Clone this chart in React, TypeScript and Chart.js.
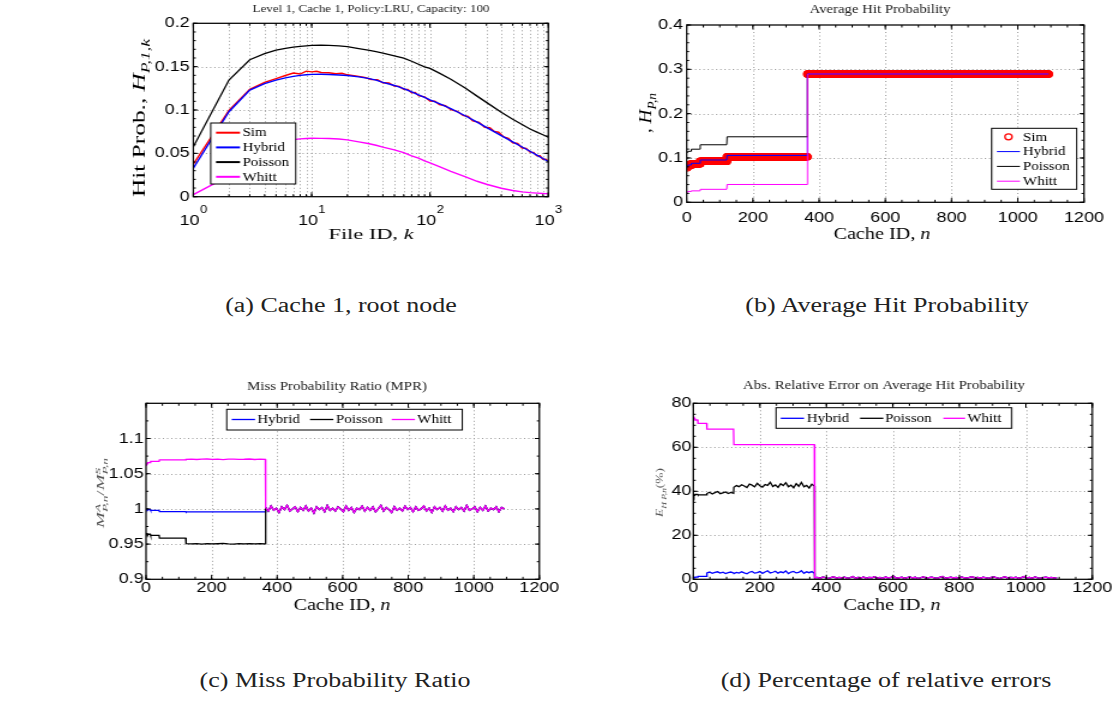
import React, { useEffect, useRef } from "react";
import { Chart, registerables } from "chart.js";

Chart.register(...registerables);

const S = 1.2; // horizontal stretch of the whole figure
const SERIF = '"Liberation Serif", "Times New Roman", Times, serif';
const SANS = '"Liberation Sans", Arial, Helvetica, sans-serif';
const RED = "#ff0000";
const BLUE = "#0000ff";
const BLACK = "#000000";
const MAGENTA = "#ff00ff";

// ================= (a) Level 1, Cache 1 — hit probability per file =================
const fileIds = [1, 2, 3, 4, 5, 6, 7, 8, 9, 10, 12, 14, 17, 20, 25, 30, 35, 40, 50, 60, 70, 80, 90, 100, 120, 150, 200, 250, 300, 400, 500, 600, 700, 800, 900, 1000];
const hybridHitByFile = [0.033, 0.098, 0.123, 0.1305, 0.1345, 0.137, 0.1388, 0.14, 0.1407, 0.1411, 0.1412, 0.1409, 0.1404, 0.1398, 0.1382, 0.1365, 0.1344, 0.1318, 0.1283, 0.1246, 0.1209, 0.1175, 0.1145, 0.1117, 0.1074, 0.1016, 0.0931, 0.086, 0.08, 0.0705, 0.0632, 0.0573, 0.0524, 0.048, 0.0441, 0.0406];
const poissonHitByFile = [0.0575, 0.1345, 0.158, 0.165, 0.169, 0.171, 0.1725, 0.1735, 0.174, 0.1745, 0.1748, 0.1746, 0.174, 0.173, 0.1708, 0.169, 0.1672, 0.1655, 0.1625, 0.1598, 0.1562, 0.1528, 0.1497, 0.148, 0.1425, 0.1355, 0.125, 0.116, 0.1088, 0.0975, 0.0893, 0.0832, 0.0781, 0.0745, 0.0714, 0.0686];
const whittHitByFile = [0.0025, 0.024, 0.042, 0.052, 0.0585, 0.063, 0.0658, 0.0667, 0.0671, 0.0674, 0.0673, 0.0671, 0.0665, 0.0655, 0.0632, 0.0614, 0.0593, 0.0572, 0.054, 0.0508, 0.0472, 0.0444, 0.0414, 0.0389, 0.0347, 0.0293, 0.0228, 0.0178, 0.0144, 0.0098, 0.0071, 0.0056, 0.0047, 0.0041, 0.0037, 0.0035];
const simFileIds = [1, 2, 3, 4, 5, 6, 7, 8, 9, 10, 11, 12, 14, 16, 18, 20, 22, 25, 28, 32, 36, 40, 45, 50, 55, 60, 65, 70, 75, 80, 90, 100, 110, 120, 135, 150, 170, 190, 210, 230, 260, 290, 320, 350, 380, 420, 460, 500, 550, 600, 650, 700, 750, 800, 850, 900, 950, 1000];
const simHitByFile = [0.0375, 0.0995, 0.1238, 0.1318, 0.1362, 0.1398, 0.1426, 0.1415, 0.1448, 0.144, 0.1446, 0.1433, 0.1429, 0.1418, 0.1423, 0.1406, 0.1399, 0.1388, 0.1376, 0.1352, 0.135, 0.1314, 0.1311, 0.1277, 0.1272, 0.1239, 0.1236, 0.12, 0.1203, 0.1166, 0.1152, 0.1104, 0.1101, 0.1063, 0.1049, 0.1003, 0.0985, 0.0937, 0.0925, 0.0875, 0.0858, 0.0801, 0.0796, 0.0752, 0.0744, 0.069, 0.0672, 0.0622, 0.0614, 0.0561, 0.0558, 0.0514, 0.0512, 0.0471, 0.0472, 0.0432, 0.0433, 0.0412];
const logTickValues = [1, 2, 3, 4, 5, 6, 7, 8, 9, 10, 20, 30, 40, 50, 60, 70, 80, 90, 100, 200, 300, 400, 500, 600, 700, 800, 900, 1000];
const decadeTicks = [1, 10, 100, 1000];
const decadeExps = ["0", "1", "2", "3"];
const hitTicksA = [0, 0.05, 0.1, 0.15, 0.2];

// ================= tree levels (cache IDs) =================
const levelStart = [1, 2, 5, 14, 41, 122, 365];
const levelEnd = [1, 4, 13, 40, 121, 364, 1093];
const cacheTicks = [0, 200, 400, 600, 800, 1000, 1200];

// ================= (b) average hit probability per level =================
const simHitLevels = [0.0777, 0.0812, 0.0835, 0.0869, 0.0926, 0.1025, 0.2895];
const hybridHitLevels = [0.0781, 0.082, 0.0842, 0.088, 0.0954, 0.1058, 0.2895];
const poissonHitLevels = [0.111, 0.1135, 0.115, 0.1198, 0.1298, 0.1478, 0.2895];
const whittHitLevels = [0.0205, 0.0235, 0.0245, 0.0258, 0.0293, 0.0402, 0.2895];
const hitTicksB = [0, 0.1, 0.2, 0.3, 0.4];

// ================= (c) miss probability ratio =================
const mprHybridLevels = [1.0, 0.9995, 0.999, 0.998, 0.9962, 0.9957];
const mprPoissonLevels = [0.9657, 0.965, 0.964, 0.9624, 0.9586];
const mprPoissonL6 = [0.9508, 0.9503, 0.9506, 0.9501, 0.9507, 0.9502, 0.9505, 0.9509, 0.9503, 0.95, 0.9506, 0.9504, 0.9508, 0.9502, 0.9505, 0.9503];
const mprWhittLevels = [1.0619, 1.064, 1.0657, 1.0676, 1.0695];
const mprWhittL6 = [1.0703, 1.0708, 1.0702, 1.0706, 1.0709, 1.0704, 1.0707, 1.0701, 1.0706, 1.0708, 1.0703, 1.0705, 1.0709, 1.0702, 1.0706, 1.0704];
const mprLeaf = [
  1.002, 0.997, 1.004, 0.998, 1.001, 0.995, 1.003, 0.999, 1.005, 0.997,
  1.0, 1.003, 0.996, 1.002, 0.998, 1.004, 0.997, 1.001, 0.994, 1.003,
  0.999, 1.002, 0.996, 1.005, 0.998, 1.001, 0.997, 1.003, 1.0, 0.996,
  1.004, 0.998, 1.002, 0.995, 1.001, 0.999, 1.004, 0.997, 1.002, 0.998,
  1.003, 0.996, 1.0, 1.005, 0.997, 1.002, 0.999, 0.995, 1.003, 0.998,
  1.001, 0.997, 1.004, 0.999, 1.002, 0.996, 1.003, 0.998, 1.0, 1.004,
  0.997, 1.001, 0.995, 1.003, 0.999, 1.002, 0.997, 1.004, 0.998, 1.001,
  0.996, 1.003, 0.999, 1.002, 0.997, 1.005, 0.998, 1.0, 1.003, 0.996,
  1.002, 0.998, 1.004, 0.997, 1.001, 0.999, 1.003, 0.996, 1.002, 1.0,
];
const mprTicks = [0.9, 0.95, 1, 1.05, 1.1];

// ================= (d) abs. relative error (%) =================
const errHybridLevels = [0.5, 0.8, 1.0, 1.3];
const errHybridL5 = [2.9, 3.3, 2.7, 3.1, 3.4, 2.8, 3.2, 2.6, 3.0, 3.3, 2.9];
const errHybridL6 = [2.6, 3.1, 2.8, 3.4, 2.9, 2.5, 3.2, 3.6, 2.8, 3.0, 3.5, 2.7, 3.3, 3.9, 2.9, 3.2, 3.7, 2.8, 3.4, 3.0, 3.8, 2.6, 3.3, 3.6, 2.9, 3.1, 3.9, 2.7, 3.4, 3.0, 3.5, 2.8];
const errPoissonLevels = [38.5, 38.2, 38.6, 38.4];
const errPoissonL5 = [39.0, 39.6, 38.8, 39.4, 39.9, 38.9, 39.3, 39.7, 39.0, 39.5, 39.1];
const errPoissonL6 = [41.8, 42.6, 42.1, 43.0, 42.4, 41.7, 43.3, 42.8, 42.0, 43.6, 42.5, 41.9, 43.1, 42.7, 44.1, 42.2, 42.9, 41.8, 43.4, 42.6, 43.9, 42.1, 42.8, 41.6, 43.5, 42.3, 44.0, 42.0, 42.7, 41.5, 43.2, 42.4];
const errWhittLevels = [74.0, 73.2, 72.4, 70.9, 68.3, 61.2];
const errLeaf = [
  0.6, 0.9, 0.4, 1.1, 0.7, 0.3, 0.8, 1.2, 0.5, 0.9,
  0.6, 1.0, 0.4, 0.7, 1.3, 0.5, 0.8, 0.6, 1.1, 0.4,
  0.9, 0.7, 1.2, 0.5, 0.8, 0.3, 1.0, 0.6, 0.9, 1.4,
  0.5, 0.7, 1.0, 0.4, 0.8, 1.1, 0.6, 0.9, 0.3, 0.7,
  1.2, 0.5, 0.8, 1.0, 0.6, 0.4, 0.9, 1.3, 0.5, 0.7,
  1.0, 0.6, 0.8, 0.4, 1.1, 0.7, 0.5, 0.9, 1.2, 0.6,
  0.8, 0.5, 1.0, 0.7, 0.4, 0.9, 1.1, 0.6, 0.3, 0.8,
  1.2, 0.5, 0.9, 0.7, 1.0, 0.4, 0.8, 1.3, 0.6, 0.9,
  0.5, 1.1, 0.7, 0.4, 0.8, 1.0, 0.6, 0.9, 0.5, 0.7,
];
const errTicks = [0, 20, 40, 60, 80];

// ================= helpers =================
type Pt = { x: number; y: number };
const zip = (xs: number[], ys: number[]): Pt[] => {
  const n = Math.min(xs.length, ys.length);
  const r: Pt[] = [];
  for (let i = 0; i < n; i++) r.push({ x: xs[i], y: ys[i] });
  return r;
};
const flatLevels = (vals: number[], first = 0): Pt[] => {
  const r: Pt[] = [];
  vals.forEach((v, j) => {
    r.push({ x: levelStart[first + j], y: v });
    r.push({ x: levelEnd[first + j], y: v });
  });
  return r;
};
const spreadLevel = (vals: number[], lv: number): Pt[] => {
  const a = levelStart[lv];
  const b = levelEnd[lv];
  const m = vals.length;
  return vals.map((v, i) => ({ x: m === 1 ? a : a + ((b - a) * i) / (m - 1), y: v }));
};
const perCache = (vals: number[]): Pt[] => {
  const r: Pt[] = [];
  vals.forEach((v, i) => {
    for (let n = levelStart[i]; n <= levelEnd[i]; n++) r.push({ x: n, y: v });
  });
  return r;
};
const seq = (a: number, b: number, st: number) => {
  const r: number[] = [];
  for (let v = a; v <= b + 1e-9; v += st) r.push(+v.toFixed(6));
  return r;
};
const fmt = (v: any) => String(+(+v).toFixed(4));

const line = (label: string, color: string, data: Pt[], width: number) => ({
  label,
  data,
  borderColor: color,
  backgroundColor: color,
  borderWidth: width,
  pointRadius: 0,
  pointHoverRadius: 0,
  tension: 0,
  fill: false,
});

type Seg = { t: string; it?: boolean; sub?: boolean; sup?: boolean; stack?: boolean };
type TextSpec = { segs: Seg[]; x: number; y: number; size: number; len: number; rot?: boolean; color?: string };
type LegendItem = { label: string; color: string; kind: "line" | "circle"; x0: number; x1: number; tx: number; y: number };
type LegendSpec = { x: number; y: number; w: number; h: number; size: number; lw: number; items: LegendItem[] };
type Geo = { CL: number; CT: number; H: number; L: number; T: number; R: number; B: number; padR: number };
type PanelCfg = {
  key: string;
  geo: Geo;
  xType: "linear" | "logarithmic";
  xMin: number; xMax: number; xTicks: number[]; xLabel: (v: any) => string; xPad: number;
  yMin: number; yMax: number; yTicks: number[]; yPad: number;
  xGrid: number[]; yGrid: number[];
  xMajor: number[]; xMinor: number[]; yMajor: number[]; yMinor: number[];
  datasets: any[];
  texts: TextSpec[];
  legend: LegendSpec;
  logLabels?: { values: number[]; exps: string[]; y: number };
};

const vItems = (defs: [string, string, "line" | "circle"][], x0: number, x1: number, tx: number, y0: number, dy: number): LegendItem[] =>
  defs.map((d, i) => ({ label: d[0], color: d[1], kind: d[2], x0, x1, tx, y: y0 + i * dy }));

// ================= panels =================
const panelA: PanelCfg = {
  key: "a",
  geo: { CL: 110, CT: 0, H: 250, L: 193.3, T: 23.3, R: 548.3, B: 196.7, padR: 15 },
  xType: "logarithmic", xMin: 1, xMax: 1000, xTicks: logTickValues, xLabel: () => "", xPad: 0,
  yMin: 0, yMax: 0.2, yTicks: hitTicksA, yPad: 3,
  xGrid: logTickValues, yGrid: hitTicksA,
  xMajor: decadeTicks, xMinor: logTickValues, yMajor: hitTicksA, yMinor: seq(0, 0.2, 0.01),
  datasets: [
    line("Whitt", MAGENTA, zip(fileIds, whittHitByFile), 1.4),
    line("Poisson", BLACK, zip(fileIds, poissonHitByFile), 1.3),
    line("Hybrid", BLUE, zip(fileIds, hybridHitByFile), 1.4),
    line("Sim", RED, zip(simFileIds, simHitByFile), 1.4),
  ],
  texts: [
    { segs: [{ t: "Level 1, Cache 1, Policy:LRU, Capacity: 100" }], x: 371, y: 8, size: 11, len: 237, color: "#222" },
    { segs: [{ t: "File ID, " }, { t: "k", it: true }], x: 371, y: 234, size: 15, len: 85 },
    { segs: [{ t: "Hit Prob., " }, { t: "H", it: true }, { t: "P,1,k", it: true, sub: true }], x: 139, y: 118, size: 15, len: 158, rot: true },
  ],
  legend: {
    x: 210.7, y: 123, w: 85, h: 61, size: 12.5, lw: 2,
    items: vItems([["Sim", RED, "line"], ["Hybrid", BLUE, "line"], ["Poisson", BLACK, "line"], ["Whitt", MAGENTA, "line"]], 216, 240, 242.5, 132.7, 14.7),
  },
  logLabels: { values: decadeTicks, exps: decadeExps, y: 221 },
};

const panelB: PanelCfg = {
  key: "b",
  geo: { CL: 620, CT: 0, H: 250, L: 686.7, T: 25, R: 1084, B: 202.3, padR: 24 },
  xType: "linear", xMin: 0, xMax: 1200, xTicks: cacheTicks, xLabel: fmt, xPad: 7,
  yMin: 0, yMax: 0.4, yTicks: hitTicksB, yPad: 3,
  xGrid: cacheTicks, yGrid: hitTicksB,
  xMajor: cacheTicks, xMinor: seq(0, 1200, 50), yMajor: hitTicksB, yMinor: seq(0, 0.4, 0.02),
  datasets: [
    line("Whitt", MAGENTA, flatLevels(whittHitLevels), 1),
    line("Poisson", BLACK, flatLevels(poissonHitLevels), 1),
    line("Hybrid", BLUE, flatLevels(hybridHitLevels), 1),
    {
      label: "Sim",
      data: perCache(simHitLevels),
      showLine: false,
      pointStyle: "circle",
      pointRadius: 3.2,
      pointHoverRadius: 3.2,
      pointBorderWidth: 1.3,
      pointBorderColor: RED,
      pointBackgroundColor: "rgba(0,0,0,0)",
      borderColor: RED,
      backgroundColor: "rgba(0,0,0,0)",
    },
  ],
  texts: [
    { segs: [{ t: "Average Hit Probability" }], x: 880, y: 9, size: 12, len: 141, color: "#222" },
    { segs: [{ t: "Cache ID, " }, { t: "n", it: true }], x: 882, y: 234, size: 16, len: 97 },
    { segs: [{ t: ", " }, { t: "H", it: true }, { t: "P,n", it: true, sub: true }], x: 646, y: 113, size: 14, len: 40, rot: true },
  ],
  legend: {
    x: 991.7, y: 128.3, w: 85, h: 61, size: 12.5, lw: 1,
    items: vItems([["Sim", RED, "circle"], ["Hybrid", BLUE, "line"], ["Poisson", BLACK, "line"], ["Whitt", MAGENTA, "line"]], 997, 1020, 1023, 136.8, 14.8),
  },
};

const panelC: PanelCfg = {
  key: "c",
  geo: { CL: 80, CT: 370, H: 250, L: 146, T: 403.3, R: 539.3, B: 579.3, padR: 20 },
  xType: "linear", xMin: 0, xMax: 1200, xTicks: cacheTicks, xLabel: fmt, xPad: 0,
  yMin: 0.9, yMax: 1.15, yTicks: mprTicks, yPad: 2,
  xGrid: cacheTicks, yGrid: mprTicks,
  xMajor: cacheTicks, xMinor: seq(0, 1200, 50), yMajor: mprTicks, yMinor: seq(0.9, 1.15, 0.025),
  datasets: [
    line("Whitt", MAGENTA, [...flatLevels(mprWhittLevels), ...spreadLevel(mprWhittL6, 5), ...spreadLevel(mprLeaf, 6)], 1.3),
    line("Poisson", BLACK, [...flatLevels(mprPoissonLevels), ...spreadLevel(mprPoissonL6, 5), ...spreadLevel(mprLeaf, 6)], 1.3),
    line("Hybrid", BLUE, [...flatLevels(mprHybridLevels), ...spreadLevel(mprLeaf, 6)], 1.3),
  ],
  texts: [
    { segs: [{ t: "Miss Probability Ratio (MPR)" }], x: 337, y: 386, size: 12, len: 180, color: "#222" },
    { segs: [{ t: "Cache ID, " }, { t: "n", it: true }], x: 342, y: 605, size: 16, len: 97 },
    {
      segs: [
        { t: "M", it: true }, { t: "A", it: true, sup: true }, { t: "P,n", it: true, sub: true, stack: true },
        { t: "/" },
        { t: "M", it: true }, { t: "S", it: true, sup: true }, { t: "P,n", it: true, sub: true, stack: true },
      ],
      x: 101, y: 493, size: 8.5, len: 70, rot: true, color: "#555",
    },
  ],
  legend: {
    x: 226.7, y: 409.3, w: 235.6, h: 20.7, size: 12.5, lw: 1.3,
    items: [
      { label: "Hybrid", color: BLUE, kind: "line", x0: 231.7, x1: 255, tx: 257.3, y: 419.5 },
      { label: "Poisson", color: BLACK, kind: "line", x0: 310, x1: 333.3, tx: 336, y: 419.5 },
      { label: "Whitt", color: MAGENTA, kind: "line", x0: 391.7, x1: 415, tx: 417.3, y: 419.5 },
    ],
  },
};

const panelD: PanelCfg = {
  key: "d",
  geo: { CL: 628, CT: 370, H: 250, L: 693.3, T: 403.3, R: 1092.3, B: 579.3, padR: 17.5 },
  xType: "linear", xMin: 0, xMax: 1200, xTicks: cacheTicks, xLabel: fmt, xPad: 0,
  yMin: 0, yMax: 80, yTicks: errTicks, yPad: 1.5,
  xGrid: cacheTicks, yGrid: errTicks,
  xMajor: cacheTicks, xMinor: seq(0, 1200, 50), yMajor: errTicks, yMinor: seq(0, 80, 5),
  datasets: [
    line("Whitt", MAGENTA, [...flatLevels(errWhittLevels), ...spreadLevel(errLeaf, 6)], 1.3),
    line("Poisson", BLACK, [...flatLevels(errPoissonLevels), ...spreadLevel(errPoissonL5, 4), ...spreadLevel(errPoissonL6, 5), ...spreadLevel(errLeaf, 6)], 1.3),
    line("Hybrid", BLUE, [...flatLevels(errHybridLevels), ...spreadLevel(errHybridL5, 4), ...spreadLevel(errHybridL6, 5), ...spreadLevel(errLeaf, 6)], 1.3),
  ],
  texts: [
    { segs: [{ t: "Abs. Relative Error on Average Hit Probability" }], x: 884, y: 385, size: 12, len: 282, color: "#222" },
    { segs: [{ t: "Cache ID, " }, { t: "n", it: true }], x: 892, y: 605, size: 16, len: 97 },
    { segs: [{ t: "E", it: true }, { t: "H P,n", it: true, sub: true }, { t: "(%)" }], x: 660, y: 492.5, size: 8.5, len: 49, rot: true, color: "#555" },
  ],
  legend: {
    x: 776, y: 407.7, w: 235.7, h: 20.6, size: 12.5, lw: 1.3,
    items: [
      { label: "Hybrid", color: BLUE, kind: "line", x0: 780.7, x1: 804, tx: 806.7, y: 418.3 },
      { label: "Poisson", color: BLACK, kind: "line", x0: 860, x1: 883.3, tx: 885, y: 418.3 },
      { label: "Whitt", color: MAGENTA, kind: "line", x0: 943.3, x1: 965, tx: 967.3, y: 418.3 },
    ],
  },
};

const panels = [panelA, panelB, panelC, panelD];

const captions = [
  { text: "(a) Cache 1, root node", x: 340.5, y: 305 },
  { text: "(b) Average Hit Probability", x: 887, y: 305 },
  { text: "(c) Miss Probability Ratio", x: 334.5, y: 680 },
  { text: "(d) Percentage of relative errors", x: 885.5, y: 680 },
];

// ================= drawing helpers =================
function geom(g: Geo) {
  const yW = (g.L - g.CL) / S;
  const innerW = (g.R - g.L) / S;
  const W = Math.ceil(yW + innerW + g.padR);
  return { yW, W, padRight: W - yW - innerW, padTop: g.T - g.CT, xH: g.CT + g.H - g.B };
}

function drawRich(ctx: CanvasRenderingContext2D, t: TextSpec, cx: (n: number) => number, cy: (n: number) => number) {
  const fontOf = (s: Seg) => `${s.it ? "italic " : ""}${s.sub || s.sup ? t.size * 0.7 : t.size}px ${SERIF}`;
  const starts: number[] = [];
  let cursor = 0;
  let lastStart = 0;
  for (const s of t.segs) {
    ctx.font = fontOf(s);
    const w = ctx.measureText(s.t).width;
    const st = s.stack ? lastStart : cursor;
    starts.push(st);
    lastStart = st;
    cursor = Math.max(cursor, st + w);
  }
  const total = cursor;
  const target = t.rot ? t.len : t.len / S;
  const k = target / total;
  ctx.save();
  ctx.translate(cx(t.x), cy(t.y));
  if (t.rot) ctx.rotate(-Math.PI / 2);
  ctx.scale(k, 1);
  ctx.fillStyle = t.color || "#000";
  ctx.textAlign = "left";
  ctx.textBaseline = "alphabetic";
  t.segs.forEach((s, i) => {
    ctx.font = fontOf(s);
    const dy = s.sub ? t.size * 0.28 : s.sup ? -t.size * 0.42 : 0;
    ctx.fillText(s.t, starts[i] - total / 2, t.size * 0.33 + dy);
  });
  ctx.restore();
}

function makePlugin(cfg: PanelCfg) {
  const g = cfg.geo;
  const cx = (xf: number) => (xf - g.CL) / S;
  const cy = (yf: number) => yf - g.CT;
  const seg = (ctx: CanvasRenderingContext2D, x1: number, y1: number, x2: number, y2: number) => {
    ctx.beginPath();
    ctx.moveTo(x1, y1);
    ctx.lineTo(x2, y2);
    ctx.stroke();
  };
  return {
    id: "matlabLook_" + cfg.key,
    beforeDatasetsDraw(chart: any) {
      const ctx: CanvasRenderingContext2D = chart.ctx;
      const a = chart.chartArea;
      const xs = chart.scales.x;
      const ys = chart.scales.y;
      ctx.save();
      ctx.strokeStyle = "#9c9c9c";
      ctx.lineWidth = 1;
      ctx.setLineDash([1, 2.5]);
      for (const v of cfg.xGrid) {
        const p = xs.getPixelForValue(v);
        if (p < a.left + 1.5 || p > a.right - 1.5) continue;
        const q = Math.round(p) + 0.5;
        seg(ctx, q, a.top, q, a.bottom);
      }
      for (const v of cfg.yGrid) {
        const p = ys.getPixelForValue(v);
        if (p < a.top + 1.5 || p > a.bottom - 1.5) continue;
        const q = Math.round(p) + 0.5;
        seg(ctx, a.left, q, a.right, q);
      }
      ctx.restore();
    },
    afterDatasetsDraw(chart: any) {
      const ctx: CanvasRenderingContext2D = chart.ctx;
      const a = chart.chartArea;
      const xs = chart.scales.x;
      const ys = chart.scales.y;
      ctx.save();
      ctx.setLineDash([]);
      ctx.strokeStyle = "#000";
      ctx.lineWidth = 1;
      const tickX = (v: number, len: number) => {
        const p = xs.getPixelForValue(v);
        seg(ctx, p, a.bottom, p, a.bottom - len);
        seg(ctx, p, a.top, p, a.top + len);
      };
      const tickY = (v: number, len: number) => {
        const p = ys.getPixelForValue(v);
        seg(ctx, a.left, p, a.left + len / S, p);
        seg(ctx, a.right, p, a.right - len / S, p);
      };
      cfg.xMinor.forEach((v) => tickX(v, 2.5));
      cfg.yMinor.forEach((v) => tickY(v, 2.5));
      cfg.xMajor.forEach((v) => tickX(v, 4.5));
      cfg.yMajor.forEach((v) => tickY(v, 4.5));
      ctx.lineWidth = 1.25;
      ctx.strokeRect(a.left, a.top, a.right - a.left, a.bottom - a.top);

      // legend
      const L = cfg.legend;
      ctx.fillStyle = "#fff";
      ctx.fillRect(cx(L.x), cy(L.y), L.w / S, L.h);
      ctx.strokeStyle = "#000";
      ctx.lineWidth = 1;
      ctx.strokeRect(cx(L.x), cy(L.y), L.w / S, L.h);
      for (const it of L.items) {
        ctx.strokeStyle = it.color;
        if (it.kind === "line") {
          ctx.lineWidth = L.lw;
          seg(ctx, cx(it.x0), cy(it.y), cx(it.x1), cy(it.y));
        } else {
          ctx.lineWidth = 1.3;
          ctx.beginPath();
          ctx.arc(cx((it.x0 + it.x1) / 2), cy(it.y), 3, 0, Math.PI * 2);
          ctx.stroke();
        }
        ctx.fillStyle = "#000";
        ctx.font = `${L.size}px ${SERIF}`;
        ctx.textAlign = "left";
        ctx.textBaseline = "middle";
        ctx.fillText(it.label, cx(it.tx), cy(it.y) + 0.5);
      }

      // log-axis decade labels
      if (cfg.logLabels) {
        const { values, exps, y } = cfg.logLabels;
        values.forEach((v, i) => {
          const p = xs.getPixelForValue(v);
          ctx.font = `15px ${SANS}`;
          const w1 = ctx.measureText("10").width;
          ctx.font = `11px ${SANS}`;
          const w2 = ctx.measureText(exps[i]).width;
          const x0 = p - (w1 + w2) / 2;
          ctx.fillStyle = "#000";
          ctx.textAlign = "left";
          ctx.textBaseline = "middle";
          ctx.font = `15px ${SANS}`;
          ctx.fillText("10", x0, cy(y));
          ctx.font = `11px ${SANS}`;
          ctx.fillText(exps[i], x0 + w1 + 0.3, cy(y) - 11.5);
        });
      }
      ctx.restore();

      for (const t of cfg.texts) drawRich(ctx, t, cx, cy);
    },
  };
}

function buildConfig(cfg: PanelCfg): any {
  const gm = geom(cfg.geo);
  return {
    type: "line",
    data: { datasets: cfg.datasets },
    options: {
      responsive: false,
      maintainAspectRatio: false,
      animation: false,
      devicePixelRatio: 1,
      events: [],
      layout: { padding: { top: gm.padTop, right: gm.padRight, left: 0, bottom: 0 } },
      plugins: { legend: { display: false }, tooltip: { enabled: false }, title: { display: false } },
      scales: {
        x: {
          type: cfg.xType,
          min: cfg.xMin,
          max: cfg.xMax,
          afterBuildTicks: (s: any) => {
            s.ticks = cfg.xTicks.map((v) => ({ value: v }));
          },
          afterFit: (s: any) => {
            s.height = gm.xH;
          },
          grid: { display: false, drawTicks: false, tickLength: 0 },
          border: { display: false },
          ticks: {
            autoSkip: false,
            maxRotation: 0,
            minRotation: 0,
            padding: cfg.xPad,
            color: "#000",
            font: { family: SANS, size: 15 },
            callback: cfg.xLabel,
          },
        },
        y: {
          type: "linear",
          min: cfg.yMin,
          max: cfg.yMax,
          afterBuildTicks: (s: any) => {
            s.ticks = cfg.yTicks.map((v) => ({ value: v }));
          },
          afterFit: (s: any) => {
            s.width = gm.yW;
          },
          grid: { display: false, drawTicks: false, tickLength: 0 },
          border: { display: false },
          ticks: {
            autoSkip: false,
            padding: cfg.yPad,
            color: "#000",
            font: { family: SANS, size: 15 },
            callback: fmt,
          },
        },
      },
    },
    plugins: [makePlugin(cfg)],
  };
}

function Panel({ cfg }: { cfg: PanelCfg }) {
  const ref = useRef<HTMLCanvasElement | null>(null);
  const gm = geom(cfg.geo);
  useEffect(() => {
    if (!ref.current) return;
    const chart = new Chart(ref.current, buildConfig(cfg));
    return () => chart.destroy();
  }, [cfg]);
  return (
    <canvas
      ref={ref}
      width={gm.W}
      height={cfg.geo.H}
      style={{
        position: "absolute",
        left: cfg.geo.CL,
        top: cfg.geo.CT,
        width: gm.W,
        height: cfg.geo.H,
        transform: `scaleX(${S})`,
        transformOrigin: "0 0",
      }}
    />
  );
}

export default function App() {
  return (
    <>
      {panels.map((p) => (
        <Panel key={p.key} cfg={p} />
      ))}
      {captions.map((c) => (
        <div
          key={c.text}
          style={{
            position: "absolute",
            left: c.x,
            top: c.y,
            transform: "translate(-50%, -50%) scaleX(1.3)",
            font: `20px ${SERIF}`,
            color: "#222",
            whiteSpace: "nowrap",
            lineHeight: "24px",
          }}
        >
          {c.text}
        </div>
      ))}
    </>
  );
}
